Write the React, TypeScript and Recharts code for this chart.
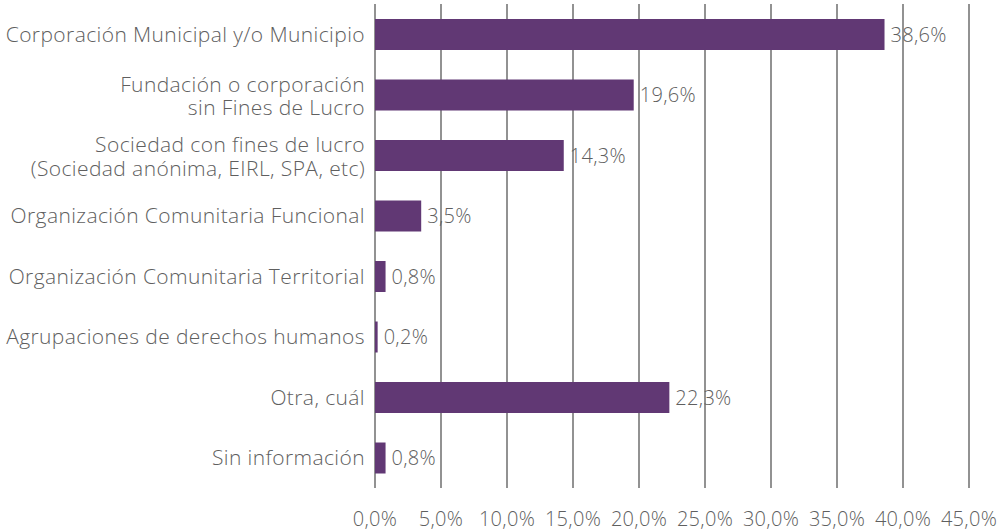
import { Bar, BarChart, CartesianGrid, LabelList, XAxis, YAxis } from "recharts";

const categories = [
  "Corporación Municipal y/o Municipio",
  "Fundación o corporación\nsin Fines de Lucro",
  "Sociedad con fines de lucro\n(Sociedad anónima, EIRL, SPA, etc)",
  "Organización Comunitaria Funcional",
  "Organización Comunitaria Territorial",
  "Agrupaciones de derechos humanos",
  "Otra, cuál",
  "Sin información",
];
const shares = [38.6, 19.6, 14.3, 3.5, 0.8, 0.2, 22.3, 0.8];
const xTicks = [0, 5, 10, 15, 20, 25, 30, 35, 40, 45];

const data = categories.map((name, i) => ({ name, value: shares[i] }));

const FONT = "'Open Sans', Lato, sans-serif";
const TEXT = "#5f5f5f";

const pct = (v: number) => v.toFixed(1).replace(".", ",") + "%";

function CategoryTick(props: any) {
  const { x, y, payload } = props;
  const lines = String(payload.value).split("\n");
  const lh = 23.5;
  const start = -((lines.length - 1) * lh) / 2 + (lines.length > 1 ? 1 : 0);
  return (
    <g>
      {lines.map((l, i) => (
        <text
          key={i}
          x={x - 10}
          y={y + start + i * lh}
          dy="0.36em"
          textAnchor="end"
          fill={TEXT}
          fontFamily={FONT}
          fontWeight={300}
          fontSize={21}
          letterSpacing={0.4}
        >
          {l}
        </text>
      ))}
    </g>
  );
}

function ValueTick(props: any) {
  const { x, y, payload } = props;
  return (
    <text
      x={x}
      y={y + 38}
      textAnchor="middle"
      fill={TEXT}
      fontFamily={FONT}
      fontWeight={300}
      fontSize={20}
      letterSpacing={0.3}
    >
      {pct(payload.value)}
    </text>
  );
}

export default function App() {
  return (
    <div style={{ position: "absolute", left: 0, top: 0, background: "#fff" }}>
      <BarChart
        width={1003}
        height={531}
        data={data}
        layout="vertical"
        margin={{ top: 4, right: 34, bottom: 0, left: 0 }}
      >
        <CartesianGrid horizontal={false} stroke="#6e6e6e" strokeWidth={1.5} />
        <XAxis
          type="number"
          domain={[0, 45]}
          ticks={xTicks}
          interval={0}
          axisLine={false}
          tickLine={false}
          tickSize={0}
          tickMargin={0}
          height={43}
          tick={<ValueTick />}
        />
        <YAxis
          type="category"
          dataKey="name"
          width={375}
          axisLine={false}
          tickLine={false}
          tickSize={0}
          tickMargin={0}
          interval={0}
          tick={<CategoryTick />}
        />
        <Bar dataKey="value" fill="#613874" barSize={31} isAnimationActive={false}>
          <LabelList
            dataKey="value"
            position="right"
            offset={6}
            formatter={(v: any) => pct(Number(v))}
            fill={TEXT}
            fontFamily={FONT}
            fontWeight={300}
            fontSize={20}
            letterSpacing={0.3}
          />
        </Bar>
      </BarChart>
    </div>
  );
}
